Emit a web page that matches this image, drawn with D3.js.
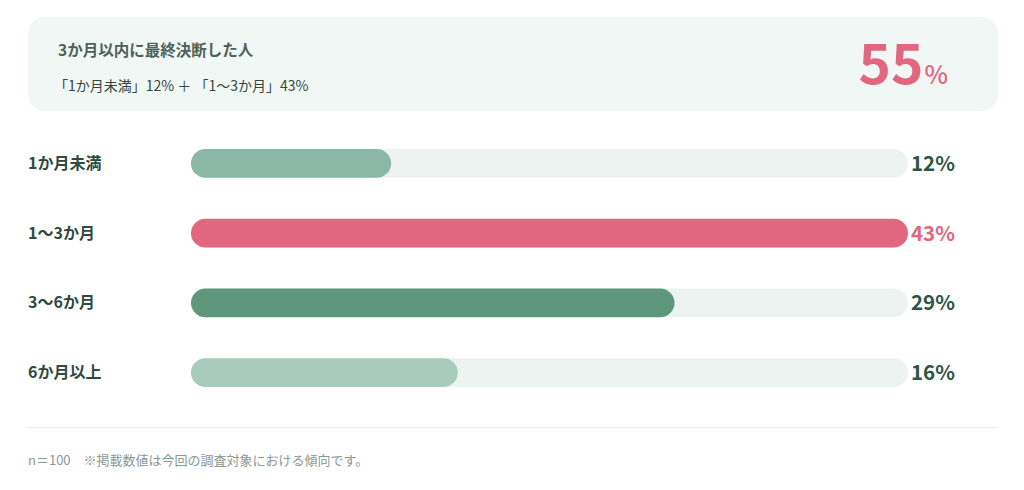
<!DOCTYPE html>
<html>
<head>
<meta charset="utf-8">
<script src="https://cdn.jsdelivr.net/npm/d3@7/dist/d3.min.js"></script>
<style>
  html, body { margin: 0; padding: 0; background: #fff; }
  svg { display: block; font-family: "Noto Sans CJK JP", "Noto Sans", sans-serif; }
</style>
</head>
<body>
<div id="chart"></div>
<script>
// chart data
var categories = ["1か月未満", "1〜3か月", "3〜6か月", "6か月以上"];
var values = [12, 43, 29, 16];
var highlight = "1〜3か月";
var summaryTitle = "3か月以内に最終決断した人";
var summaryDetail = "「1か月未満」12% ＋ 「1〜3か月」43%";
var summaryValue = 55;
var footnote = "n＝100　※掲載数値は今回の調査対象における傾向です。";

var barColors = ["#8bb8a6", "#e0677f", "#5f977d", "#a8cbbb"];

var width = 1024, height = 490;
var margin = {left: 191, right: 116};

var svg = d3.select("#chart").append("svg")
  .attr("width", width)
  .attr("height", height);

// summary box at the top
svg.append("rect")
  .attr("x", 28).attr("y", 17)
  .attr("width", 970).attr("height", 94)
  .attr("rx", 16)
  .attr("fill", "#f1f7f5");

svg.append("text")
  .attr("x", 58).attr("y", 56)
  .attr("font-size", 15.5).attr("font-weight", 700)
  .attr("fill", "#4d6259")
  .text(summaryTitle);

svg.append("text")
  .attr("x", 54).attr("y", 91)
  .attr("font-size", 14)
  .attr("fill", "#34473f")
  .text(summaryDetail);

var big = svg.append("text")
  .attr("x", 948).attr("y", 84)
  .attr("text-anchor", "end")
  .attr("fill", "#e0677f")
  .attr("font-weight", 700);
big.append("tspan").attr("font-size", 55).text(summaryValue);
big.append("tspan").attr("font-size", 25).attr("font-weight", 500).attr("dx", 1).text("%");

// bar scales
var x = d3.scaleLinear()
  .domain([0, d3.max(values)])
  .range([margin.left, width - margin.right]);

var y = d3.scaleBand()
  .domain(categories)
  .range([128, 408])
  .paddingInner(0.585)
  .paddingOuter(0.3);

var bh = y.bandwidth();

var rows = svg.append("g").selectAll("g")
  .data(categories)
  .join("g")
  .attr("transform", function(d) { return "translate(0," + y(d) + ")"; });

// background track
rows.append("rect")
  .attr("x", x(0))
  .attr("width", x(d3.max(values)) - x(0))
  .attr("height", bh)
  .attr("rx", bh / 2)
  .attr("fill", "#edf3f1");

// value bar
rows.append("rect")
  .attr("x", x(0))
  .attr("width", function(d, i) { return x(values[i]) - x(0); })
  .attr("height", bh)
  .attr("rx", bh / 2)
  .attr("fill", function(d, i) { return barColors[i]; });

// category labels
rows.append("text")
  .attr("x", 28)
  .attr("y", bh / 2)
  .attr("dy", "0.35em")
  .attr("font-size", 16).attr("font-weight", 700)
  .attr("fill", "#2f4a3f")
  .text(function(d) { return d; });

// value labels
rows.append("text")
  .attr("x", x(d3.max(values)) + 3)
  .attr("y", bh / 2)
  .attr("dy", "0.36em")
  .attr("font-size", 20.5).attr("font-weight", 700)
  .attr("fill", function(d) { return d === highlight ? "#e0677f" : "#2d5646"; })
  .text(function(d, i) { return values[i] + "%"; });

// separator and footnote
svg.append("line")
  .attr("x1", 28).attr("x2", 998)
  .attr("y1", 427.5).attr("y2", 427.5)
  .attr("stroke", "#e6eeeb").attr("stroke-width", 1);

svg.append("text")
  .attr("x", 28).attr("y", 465)
  .attr("font-size", 13)
  .attr("fill", "#8c9893")
  .text(footnote);
</script>
</body>
</html>
